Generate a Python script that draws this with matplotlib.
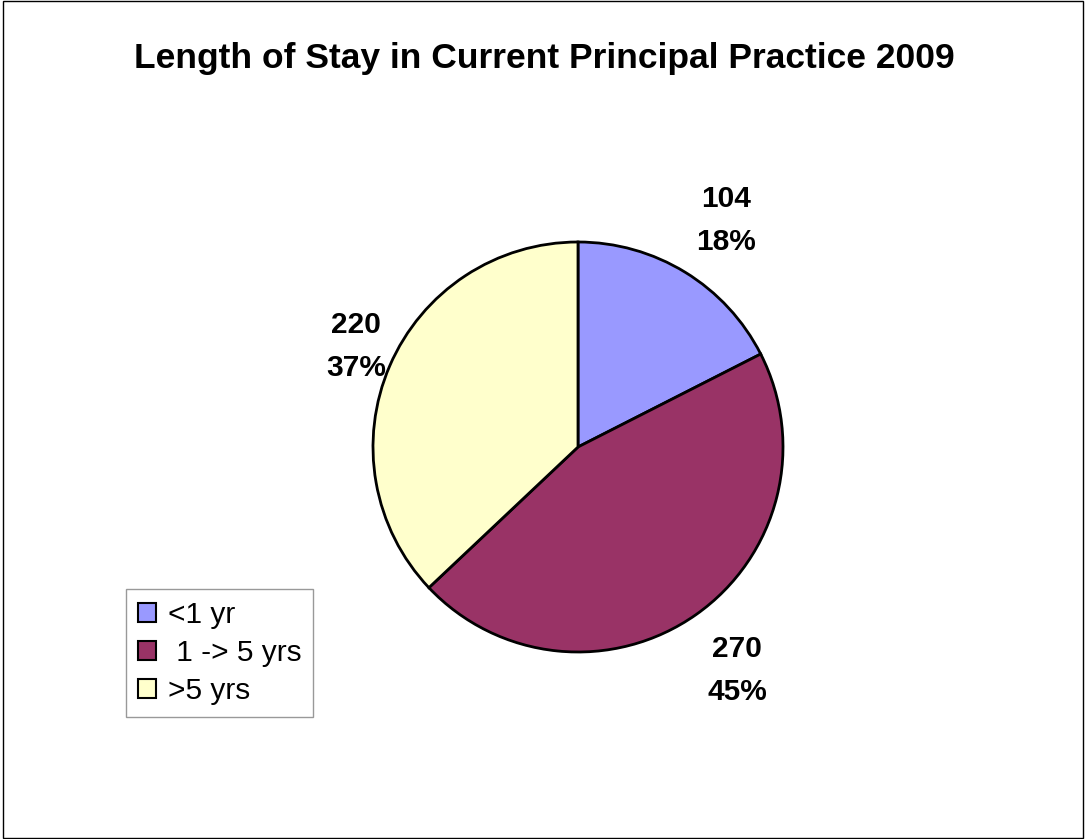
import matplotlib.pyplot as plt
from matplotlib.patches import Patch, Rectangle

plt.rcParams['font.family'] = ['Liberation Sans', 'DejaVu Sans']

# data
categories = ['<1 yr', ' 1 -> 5 yrs', '>5 yrs']
counts = [104, 270, 220]
percents = ['18%', '45%', '37%']
colors = ['#9999FF', '#993366', '#FFFFCC']

W, H = 1086, 839
fig = plt.figure(figsize=(W / 100, H / 100), dpi=100)
ax = fig.add_axes([0, 0, 1, 1])

# frame around the chart area
fig.patches.append(Rectangle((3 / W, 1 / H), (W - 6) / W, (H - 2) / H,
                             transform=fig.transFigure, fill=False,
                             edgecolor='black', linewidth=1.0))

center = (578, H - 447)
radius = 205
ax.pie(counts, colors=colors, startangle=90, counterclock=False,
       center=center, radius=radius, frame=True,
       wedgeprops=dict(edgecolor='black', linewidth=2.0))
ax.set_xlim(0, W)
ax.set_ylim(0, H)
ax.set_aspect('equal')
ax.axis('off')

# data labels (value + percent), baselines in pixels from top
label_pos = [(726, 207), (737, 657), (356, 333)]
for (x, y), c, p in zip(label_pos, counts, percents):
    ax.text(x, H - y, str(c), ha='center', va='baseline',
            fontsize=21.5, fontweight='bold')
    ax.text(x, H - y - 43, p, ha='center', va='baseline',
            fontsize=21.5, fontweight='bold')

ax.text(544, H - 68, 'Length of Stay in Current Principal Practice 2009',
        ha='center', va='baseline', fontsize=25.5, fontweight='bold')

handles = [Patch(facecolor=c, edgecolor='black', linewidth=1.5) for c in colors]
leg = ax.legend(handles, categories, loc='upper left',
                bbox_to_anchor=(126 / W, 1 - 589 / H), bbox_transform=fig.transFigure,
                fontsize=21.5, frameon=True, fancybox=False, handlelength=0.6,
                handleheight=0.6, handletextpad=0.4, labelspacing=0.33,
                borderpad=0.4, borderaxespad=0)
leg.get_frame().set_edgecolor('#808080')
leg.get_frame().set_linewidth(1.0)

fig.savefig('out.png', dpi=100)
